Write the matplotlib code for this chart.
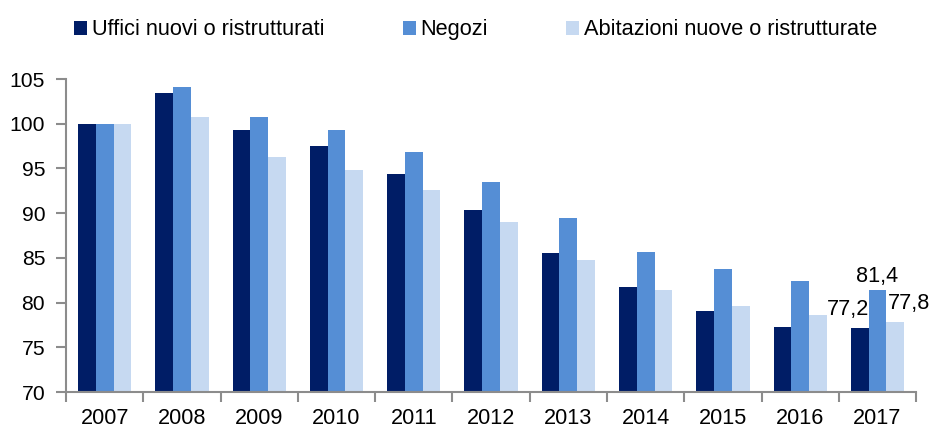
import numpy as np
from matplotlib import pyplot as plt

plt.rcParams['font.family'] = ['Liberation Sans', 'DejaVu Sans']

anni = ["2007", "2008", "2009", "2010", "2011", "2012", "2013", "2014", "2015", "2016", "2017"]
uffici = [100, 103.4, 99.3, 97.5, 94.4, 90.4, 85.5, 81.7, 79.1, 77.3, 77.2]
negozi = [100, 104.1, 100.8, 99.3, 96.8, 93.5, 89.5, 85.7, 83.7, 82.4, 81.4]
abitazioni = [100, 100.7, 96.3, 94.8, 92.6, 89.0, 84.8, 81.4, 79.6, 78.6, 77.8]
serie_nomi = ["Uffici nuovi o ristrutturati", "Negozi", "Abitazioni nuove o ristrutturate"]
colori = ["#001D66", "#558ED5", "#C6D9F1"]

fig = plt.figure(figsize=(9.32, 4.28), dpi=100)
ax = fig.add_axes([0.0708, 0.0841, 0.9122, 0.7313])

x = np.arange(len(anni))
w = 0.23
for i, (vals, col, nome) in enumerate(zip([uffici, negozi, abitazioni], colori, serie_nomi)):
    ax.bar(x + (i - 1) * w, np.array(vals) - 70, w, bottom=70, color=col, label=nome)

ax.set_xlim(-0.5, len(anni) - 0.5)
ax.set_ylim(70, 105)
ax.set_yticks(range(70, 106, 5))
ax.set_xticks(x)
ax.set_xticklabels(anni)
ax.set_xticks(np.arange(-0.5, len(anni), 1), minor=True)
ax.tick_params(axis='x', which='major', length=0, pad=11.5, labelsize=15.6)
ax.tick_params(axis='x', which='minor', length=7, width=1.5, color='#8c8c8c')
ax.tick_params(axis='y', length=7, width=1.5, color='#8c8c8c', pad=8, labelsize=15.2)
for s in ['top', 'right']:
    ax.spines[s].set_visible(False)
for s in ['left', 'bottom']:
    ax.spines[s].set_color('#8c8c8c')
    ax.spines[s].set_linewidth(1.5)

# etichette 2017
last = len(anni) - 1
offs = [(-12, 18), (0, 14), (14, 19)]
for i, vals in enumerate([uffici, negozi, abitazioni]):
    ax.annotate(f"{vals[last]:.1f}".replace(".", ","), (x[last] + (i - 1) * w, vals[last]),
                xytext=offs[i], textcoords='offset pixels', ha='center', va='center', fontsize=15.6)

fig.legend(loc='center left', bbox_to_anchor=(0.079, 0.93), ncol=3, frameon=False, fontsize=15.7,
           handlelength=0.6, handleheight=0.6, handletextpad=0.22, columnspacing=3.6,
           borderpad=0, borderaxespad=0)

fig.savefig("out.png", dpi=100)
